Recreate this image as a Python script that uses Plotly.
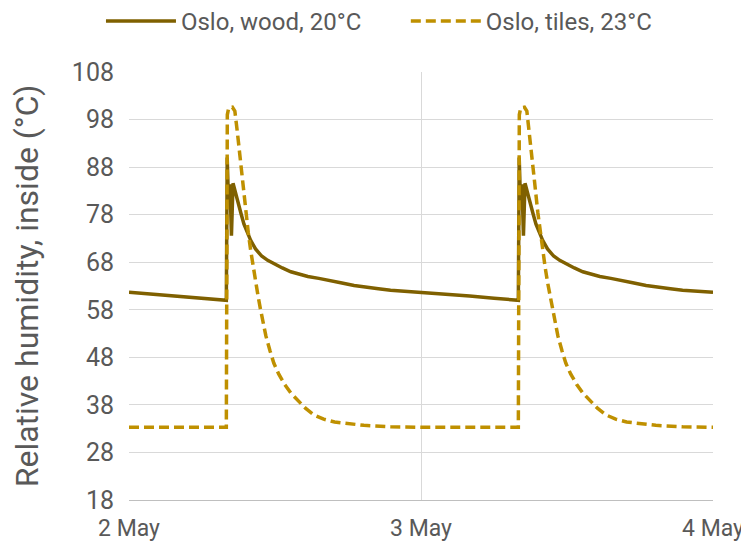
import plotly.graph_objects as go

# hours since 2 May 00:00
wood_hours = [0, 2, 4, 6, 8.0, 8.07, 8.17, 8.3, 8.42, 8.55, 8.8, 9.0, 9.2, 9.45, 9.74, 10.0,
              10.4, 10.9, 11.4, 11.94, 12.6, 13.3, 14.0, 14.7, 15.6, 16.5, 17.4, 18.5, 19.5,
              20.5, 21.5, 22.7,
              24, 26, 28, 30, 32.0, 32.07, 32.17, 32.3, 32.42, 32.55, 32.8, 33.0, 33.2, 33.45,
              33.74, 34.0, 34.4, 34.9, 35.4, 35.94, 36.6, 37.3, 38.0, 38.7, 39.6, 40.5, 41.4,
              42.5, 43.5, 44.5, 45.5, 46.7, 48]
wood_rh = [61.7, 61.3, 60.9, 60.4, 60.0, 90.0, 81.5, 84.4, 73.6, 84.6, 82.4, 80.2, 78.3, 76.0,
           74.1, 72.6, 70.8, 69.3, 68.4, 67.6, 66.8, 66.0, 65.5, 65.0, 64.6, 64.2, 63.7, 63.1,
           62.7, 62.4, 62.1, 61.9,
           61.7, 61.3, 60.9, 60.4, 60.0, 90.0, 81.5, 84.4, 73.6, 84.6, 82.4, 80.2, 78.3, 76.0,
           74.1, 72.6, 70.8, 69.3, 68.4, 67.6, 66.8, 66.0, 65.5, 65.0, 64.6, 64.2, 63.7, 63.1,
           62.7, 62.4, 62.1, 61.9, 61.7]

tiles_hours = [0, 8.0, 8.08, 8.2, 8.5, 8.7, 8.9, 9.1, 9.33, 9.6, 9.8, 10.0, 10.2, 10.4, 10.6,
               10.8, 11.0, 11.25, 11.6, 11.9, 12.3, 12.8, 13.3, 13.9, 14.5, 15.2, 16.0, 16.9,
               18.0, 19.3, 21.5,
               24, 32.0, 32.08, 32.2, 32.5, 32.7, 32.9, 33.1, 33.33, 33.6, 33.8, 34.0, 34.2,
               34.4, 34.6, 34.8, 35.0, 35.25, 35.6, 35.9, 36.3, 36.8, 37.3, 37.9, 38.5, 39.2,
               40.0, 40.9, 42.0, 43.3, 45.5, 48]
tiles_rh = [33.3, 33.3, 99.0, 100.5, 100.6, 99.8, 95.5, 90.5, 85.0, 78.5, 74.3, 70.5, 67.0,
            63.8, 61.0, 58.2, 55.6, 52.5, 49.3, 46.8, 44.5, 42.3, 40.5, 38.9, 37.3, 35.9, 35.0,
            34.4, 34.0, 33.7, 33.4,
            33.3, 33.3, 99.0, 100.5, 100.6, 99.8, 95.5, 90.5, 85.0, 78.5, 74.3, 70.5, 67.0,
            63.8, 61.0, 58.2, 55.6, 52.5, 49.3, 46.8, 44.5, 42.3, 40.5, 38.9, 37.3, 35.9, 35.0,
            34.4, 34.0, 33.7, 33.4, 33.3]

x_ticks = [0, 24, 48]
x_labels = ["2 May", "3 May", "4 May"]
y_ticks = [18, 28, 38, 48, 58, 68, 78, 88, 98, 108]

FONT = "Roboto, sans-serif"
GREY = "#595959"

fig = go.Figure()

fig.add_trace(go.Scatter(
    x=wood_hours, y=wood_rh, mode="lines", name="Oslo, wood, 20°C",
    line=dict(color="#7F6000", width=3.5), legend="legend"
))
fig.add_trace(go.Scatter(
    x=tiles_hours, y=tiles_rh, mode="lines", name="Oslo, tiles, 23°C",
    line=dict(color="#BF9000", width=3.5, dash="10px,5px"), legend="legend2"
))

# one legend per series so each entry sits where the reference has it
leg_style = dict(orientation="h", xanchor="left", y=1.118, yanchor="middle",
                 font=dict(size=24, color=GREY), bgcolor="rgba(0,0,0,0)", itemwidth=70)

# page has an 8px body margin, so the figure is 8px smaller than the window
fig.update_layout(
    width=741, height=548,
    margin=dict(l=121, r=36, t=64, b=56, autoexpand=False),
    paper_bgcolor="white", plot_bgcolor="white",
    font=dict(family=FONT, size=24, color=GREY),
    showlegend=True,
    legend=dict(x=-0.048, **leg_style),
    legend2=dict(x=0.474, **leg_style),
)

fig.update_xaxes(
    range=[0, 48], tickvals=x_ticks, ticktext=x_labels,
    showgrid=True, gridcolor="#D9D9D9", gridwidth=1,
    showline=True, linecolor="#BFBFBF", linewidth=1,
    zeroline=False, ticks="", ticklabelstandoff=7, tickfont=dict(size=23, color=GREY)
)
fig.update_yaxes(
    range=[18, 108], tickvals=y_ticks,
    showgrid=True, gridcolor="#D9D9D9", gridwidth=1,
    zeroline=False, ticks="", ticklabelstandoff=14, tickfont=dict(size=25, color=GREY),
    title=dict(text="Relative humidity, inside (°C)", font=dict(size=32, color=GREY), standoff=24)
)

fig.write_html("out.html")
